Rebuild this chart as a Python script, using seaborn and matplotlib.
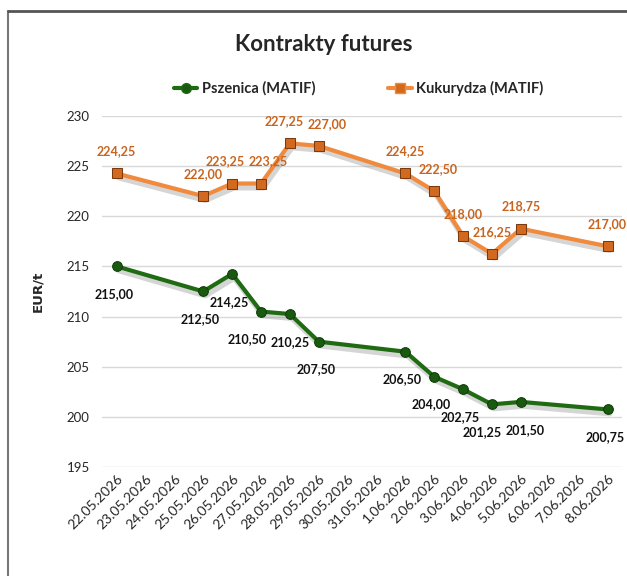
import matplotlib
matplotlib.use("Agg")
import matplotlib.pyplot as plt
import matplotlib.transforms as mtransforms
from matplotlib.lines import Line2D
import seaborn as sns
import pandas as pd

dates = ['22.05.2026', '23.05.2026', '24.05.2026', '25.05.2026', '26.05.2026',
         '27.05.2026', '28.05.2026', '29.05.2026', '30.05.2026', '31.05.2026',
         '1.06.2026', '2.06.2026', '3.06.2026', '4.06.2026', '5.06.2026',
         '6.06.2026', '7.06.2026', '8.06.2026']
wheat_dates = ['22.05.2026', '25.05.2026', '26.05.2026', '27.05.2026', '28.05.2026',
               '29.05.2026', '1.06.2026', '2.06.2026', '3.06.2026', '4.06.2026',
               '5.06.2026', '8.06.2026']
wheat = [215.00, 212.50, 214.25, 210.50, 210.25, 207.50,
         206.50, 204.00, 202.75, 201.25, 201.50, 200.75]
corn = [224.25, 222.00, 223.25, 223.25, 227.25, 227.00,
        224.25, 222.50, 218.00, 216.25, 218.75, 217.00]

# horizontal nudges (points) for the value labels, so crowded ones stay readable
wheat_nudge = [0, 0, 0, -8, 2, 0, 0, 0, 0, -5, 5, 0]
corn_nudge = [0, 0, -5, 5, -4, 6, 0, 3, 0, 0, 0, 0]

sns.set_style("white")
plt.rcParams['font.family'] = ['Lato', 'DejaVu Sans']

wheat_x = [dates.index(d) for d in wheat_dates]
df = pd.DataFrame({'x': wheat_x + wheat_x,
                   'value': wheat + corn,
                   'series': ['Pszenica (MATIF)'] * len(wheat) + ['Kukurydza (MATIF)'] * len(corn)})

fig = plt.figure(figsize=(6.27, 5.76), dpi=100)
ax = fig.add_axes([0.163, 0.189, 0.829, 0.610])

green = '#1e6b12'
orange = '#f08a3c'

# soft shadow under the lines
shift = ax.transData + mtransforms.ScaledTranslation(1.5 / 72, -3 / 72, fig.dpi_scale_trans)
ax.plot(wheat_x, wheat, color='#888888', alpha=0.35, linewidth=4, transform=shift, zorder=1)
ax.plot(wheat_x, corn, color='#888888', alpha=0.35, linewidth=4, transform=shift, zorder=1)

sns.lineplot(data=df, x='x', y='value', hue='series', style='series',
             palette={'Pszenica (MATIF)': green, 'Kukurydza (MATIF)': orange},
             markers={'Pszenica (MATIF)': 'o', 'Kukurydza (MATIF)': 's'},
             dashes=False, linewidth=3, markersize=7, ax=ax, legend=False, zorder=3)
ax.lines[2].set_markerfacecolor('#1a5a10')
ax.lines[2].set_markeredgecolor('#0f3d08')
ax.lines[3].set_markerfacecolor('#d2691e')
ax.lines[3].set_markeredgecolor('#7a3a10')

def fmt(v):
    return f"{v:.2f}".replace('.', ',')

for x, v, n in zip(wheat_x, wheat, wheat_nudge):
    ax.annotate(fmt(v), (x, v), xytext=(-2 + n, -20), textcoords='offset points',
                ha='center', va='center', fontsize=9, fontweight='bold', color='#111111')
for x, v, n in zip(wheat_x, corn, corn_nudge):
    ax.annotate(fmt(v), (x, v), xytext=(n, 16), textcoords='offset points',
                ha='center', va='center', fontsize=9, fontweight='bold', color='#c8641e')

ax.set_xlim(-0.5, 17.5)
ax.set_ylim(195, 230)
ax.set_yticks(range(195, 231, 5))
ax.set_xticks(range(len(dates)))
ax.set_xticklabels(dates, rotation=45, ha='right', rotation_mode='anchor', fontsize=10)
ax.tick_params(axis='y', labelsize=9.5, length=0, pad=9)
ax.tick_params(axis='x', length=0, pad=4)
ax.grid(axis='y', color='#d9d9d9', linewidth=1)
for s in ax.spines.values():
    s.set_visible(False)
ax.set_xlabel('')
ax.set_ylabel('EUR/t', fontsize=9.5, fontweight='bold', family='DejaVu Sans', labelpad=16)

fig.text(0.517, 0.922, 'Kontrakty futures', ha='center', va='center', fontsize=16, fontweight='bold')

handles = [Line2D([], [], color=green, marker='o', markersize=7, linewidth=3, markerfacecolor='#1a5a10'),
           Line2D([], [], color=orange, marker='s', markersize=7, linewidth=3, markerfacecolor='#d2691e')]
fig.legend(handles, ['Pszenica (MATIF)', 'Kukurydza (MATIF)'], loc='center',
           bbox_to_anchor=(0.572, 0.847), ncol=2, frameon=False,
           handlelength=1.6, handletextpad=0.3, columnspacing=5,
           prop={'weight': 'bold', 'size': 10.5})

fig.add_artist(Line2D([0.013, 0.013], [0, 0.981], color='#777777', linewidth=1.5, transform=fig.transFigure))
fig.add_artist(Line2D([0.013, 1], [0.981, 0.981], color='#555555', linewidth=2, transform=fig.transFigure))

fig.savefig('out.png', dpi=100)
